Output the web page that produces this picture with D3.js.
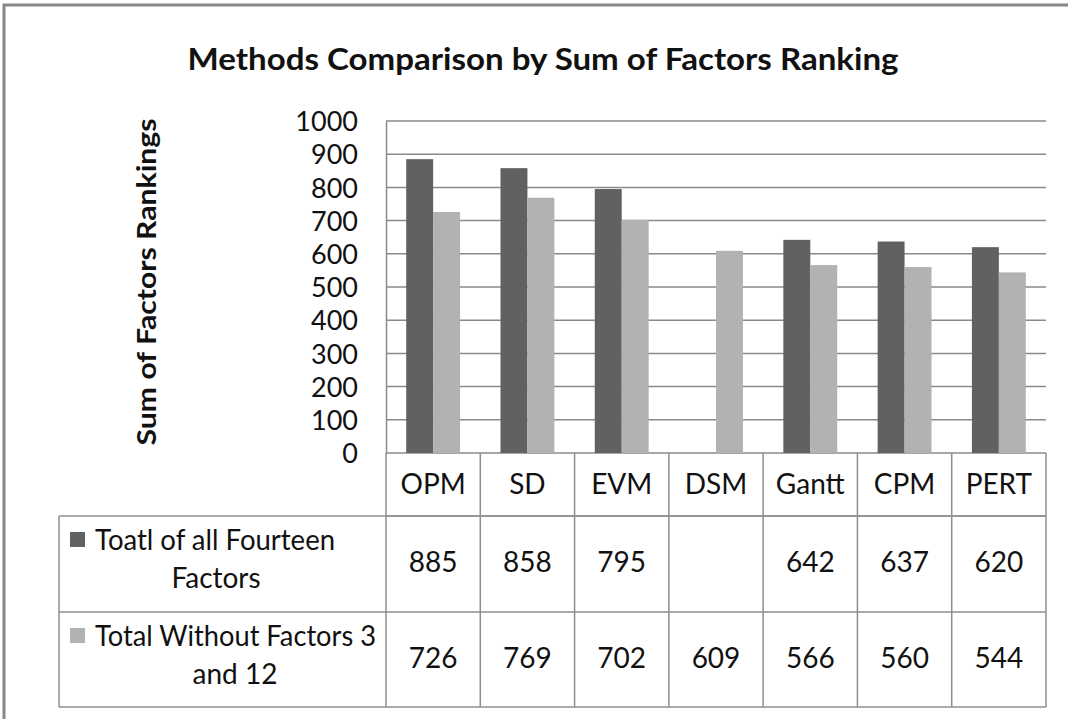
<!DOCTYPE html>
<html>
<head>
<meta charset="utf-8">
<script src="https://cdn.jsdelivr.net/npm/d3@7"></script>
<style>
  body { margin: 0; background: #fff; }
  text { font-family: Lato, "Open Sans", sans-serif; fill: #111; }
</style>
</head>
<body>
<div id="chart"></div>
<script>
const categories = ["OPM", "SD", "EVM", "DSM", "Gantt", "CPM", "PERT"];
const seriesNames = ["Toatl of all Fourteen Factors", "Total Without Factors 3 and 12"];
const totalAll = [885, 858, 795, null, 642, 637, 620];
const totalWithout = [726, 769, 702, 609, 566, 560, 544];
const yTicks = [0, 100, 200, 300, 400, 500, 600, 700, 800, 900, 1000];
const colors = ["#616161", "#b2b2b2"];

const W = 1068, H = 719;
const plot = { left: 386, right: 1046, top: 121, bottom: 453 };
const rowTop = 516, rowMid = 612, rowBottom = 707, tableLeft = 59;

const svg = d3.select("#chart").append("svg")
    .attr("width", W)
    .attr("height", H);

// outer frame
svg.append("rect")
    .attr("x", 4).attr("y", 5)
    .attr("width", W + 10).attr("height", H + 10)
    .attr("fill", "none")
    .attr("stroke", "#888")
    .attr("stroke-width", 3);

svg.append("text")
    .attr("x", 543).attr("y", 70)
    .attr("text-anchor", "middle")
    .attr("textLength", 711)
    .attr("lengthAdjust", "spacingAndGlyphs")
    .style("font-size", "30px")
    .style("font-weight", "bold")
    .text("Methods Comparison by Sum of Factors Ranking");

const x = d3.scaleBand()
    .domain(categories)
    .range([plot.left, plot.right]);

const x1 = d3.scaleBand()
    .domain([0, 1])
    .range([0, x.bandwidth()])
    .paddingOuter(0.75);

const y = d3.scaleLinear()
    .domain([0, 1000])
    .range([plot.bottom, plot.top]);

// gridlines
svg.append("g")
    .selectAll("line")
    .data(yTicks)
    .enter()
    .append("line")
        .attr("x1", plot.left).attr("x2", plot.right)
        .attr("y1", d => y(d)).attr("y2", d => y(d))
        .attr("stroke", "#8a8a8a")
        .attr("stroke-width", 1.5);

// y axis, labels only
const yAxis = svg.append("g")
    .attr("transform", `translate(${plot.left},0)`)
    .call(d3.axisLeft(y).tickValues(yTicks).tickFormat(d3.format("d")).tickSize(0).tickPadding(28));
yAxis.select(".domain").attr("stroke", "#8a8a8a").attr("stroke-width", 1.5);
yAxis.selectAll("text")
    .style("font-size", "27px")
    .style("font-family", "Lato, sans-serif")
    .attr("fill", "#111")
    .attr("dy", "0.36em");

svg.append("text")
    .attr("transform", "translate(156,282) rotate(-90)")
    .attr("text-anchor", "middle")
    .attr("textLength", 327)
    .attr("lengthAdjust", "spacingAndGlyphs")
    .style("font-size", "27px")
    .style("font-weight", "bold")
    .text("Sum of Factors Rankings");

// bars
const series = [totalAll, totalWithout];
const groups = svg.append("g")
    .selectAll("g")
    .data(series)
    .enter()
    .append("g")
        .attr("fill", (d, i) => colors[i]);

groups.selectAll("rect")
    .data((vals, si) => vals.map((v, ci) => ({ v, ci, si })).filter(d => d.v != null))
    .enter()
    .append("rect")
        .attr("x", d => x(categories[d.ci]) + x1(d.si))
        .attr("y", d => y(d.v))
        .attr("width", x1.bandwidth())
        .attr("height", d => y(0) - y(d.v));

// data table
const table = svg.append("g")
    .attr("fill", "none")
    .attr("stroke", "#8f8f8f")
    .attr("stroke-width", 1.5);

const colEdges = categories.map(c => x(c)).concat([plot.right]);
table.selectAll(".vline")
    .data(colEdges)
    .enter()
    .append("line")
        .attr("x1", d => d).attr("x2", d => d)
        .attr("y1", plot.bottom).attr("y2", rowBottom);

table.append("line")
    .attr("x1", tableLeft).attr("x2", tableLeft)
    .attr("y1", rowTop).attr("y2", rowBottom);

[[plot.left, rowTop], [tableLeft, rowTop], [tableLeft, rowMid], [tableLeft, rowBottom]].forEach(([x0, yy]) => {
    table.append("line")
        .attr("x1", x0).attr("x2", plot.right)
        .attr("y1", yy).attr("y2", yy);
});

// header row
svg.append("g")
    .selectAll("text")
    .data(categories)
    .enter()
    .append("text")
        .attr("x", d => x(d) + x.bandwidth() / 2)
        .attr("y", 494)
        .attr("text-anchor", "middle")
        .style("font-size", "28px")
        .text(d => d);

// legend cells
const legendRows = [
    { lines: ["Toatl of all Fourteen", "Factors"], width: 240, cx: 216, top: rowTop },
    { lines: ["Total Without Factors 3", "and 12"], width: 281, cx: 235, top: rowMid }
];
legendRows.forEach((r, i) => {
    svg.append("rect")
        .attr("x", 70).attr("y", r.top + 16)
        .attr("width", 15).attr("height", 15)
        .attr("fill", colors[i]);
    svg.append("text")
        .attr("x", 95).attr("y", r.top + 34)
        .attr("textLength", r.width)
        .attr("lengthAdjust", "spacingAndGlyphs")
        .style("font-size", "28px")
        .text(r.lines[0]);
    svg.append("text")
        .attr("x", r.cx).attr("y", r.top + 72)
        .attr("text-anchor", "middle")
        .style("font-size", "28px")
        .text(r.lines[1]);
});

// values
series.forEach((vals, si) => {
    svg.append("g")
        .selectAll("text")
        .data(vals.map((v, ci) => ({ v, ci })).filter(d => d.v != null))
        .enter()
        .append("text")
            .attr("x", d => x(categories[d.ci]) + x.bandwidth() / 2)
            .attr("y", (si === 0 ? rowTop : rowMid) + 56)
            .attr("text-anchor", "middle")
            .style("font-size", "28px")
            .text(d => d.v);
});
</script>
</body>
</html>
